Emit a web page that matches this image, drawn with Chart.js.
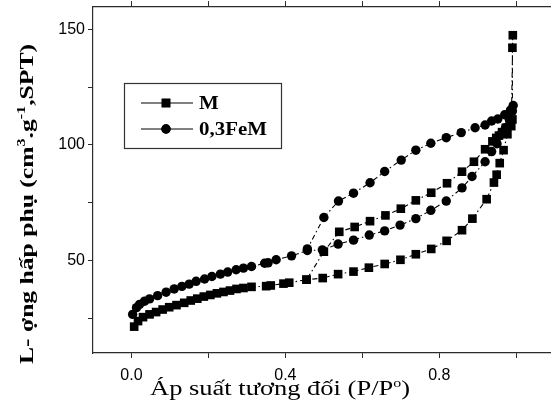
<!DOCTYPE html>
<html>
<head>
<meta charset="utf-8">
<script src="https://cdn.jsdelivr.net/npm/chart.js@4/dist/chart.umd.min.js"></script>
<style>
  html, body { margin: 0; padding: 0; background: #fff; }
  #wrap { width: 557px; height: 414px; }
</style>
</head>
<body>
<div id="wrap"><canvas id="chartIso" width="557" height="414"></canvas></div>
<script>
// series names
var SERIES = ['M', '0,3FeM'];

// M - adsorption branch
var M_ADS_P = [0.007, 0.017, 0.030, 0.047, 0.064, 0.081, 0.098, 0.117, 0.137, 0.154, 0.171, 0.188, 0.205, 0.222, 0.239, 0.256, 0.273, 0.291, 0.312, 0.350, 0.362, 0.395, 0.410, 0.455, 0.497, 0.537, 0.577, 0.617, 0.658, 0.699, 0.739, 0.779, 0.819, 0.859, 0.886, 0.923, 0.942, 0.949, 0.957, 0.967, 0.977, 0.987, 0.991];
var M_ADS_V = [21.4, 23.8, 25.5, 26.7, 27.7, 28.8, 29.8, 30.7, 31.7, 32.7, 33.5, 34.4, 35.1, 35.8, 36.4, 37.0, 37.7, 38.1, 38.6, 38.9, 39.2, 40.0, 40.4, 41.7, 42.4, 44.1, 45.2, 46.9, 48.5, 50.3, 52.7, 55.0, 58.5, 63.1, 68.1, 76.5, 83.7, 87.1, 92.1, 97.7, 104.6, 108.1, 147.4];
// M - desorption branch
var M_DES_P = [0.990, 0.990, 0.983, 0.973, 0.963, 0.955, 0.948, 0.938, 0.919, 0.890, 0.859, 0.820, 0.779, 0.739, 0.700, 0.660, 0.620, 0.580, 0.540, 0.500, 0.455];
var M_DES_V = [142.0, 111.0, 109.5, 107.4, 105.5, 104.0, 103.0, 101.5, 98.1, 92.7, 88.4, 83.4, 79.3, 76.0, 72.4, 69.5, 67.0, 64.5, 62.4, 53.8, 41.7];

// 0,3FeM - adsorption branch
var FE_ADS_P = [0.003, 0.013, 0.021, 0.034, 0.047, 0.068, 0.090, 0.111, 0.131, 0.150, 0.168, 0.190, 0.209, 0.231, 0.250, 0.272, 0.291, 0.312, 0.346, 0.355, 0.376, 0.416, 0.457, 0.496, 0.537, 0.577, 0.618, 0.658, 0.698, 0.739, 0.778, 0.818, 0.859, 0.885, 0.919, 0.936, 0.950, 0.960, 0.972, 0.982, 0.990, 0.992];
var FE_ADS_V = [26.7, 29.6, 31.0, 32.4, 33.4, 34.8, 36.3, 37.7, 38.8, 39.8, 41.0, 42.0, 43.1, 44.1, 45.0, 46.0, 46.7, 47.4, 48.8, 49.0, 50.3, 52.0, 54.3, 54.6, 57.1, 58.8, 61.0, 62.8, 65.3, 68.1, 71.7, 75.7, 81.4, 86.3, 92.7, 97.1, 100.5, 104.6, 107.4, 111.0, 114.6, 117.0];
// 0,3FeM - desorption branch
var FE_DES_P = [0.985, 0.970, 0.952, 0.936, 0.919, 0.893, 0.857, 0.818, 0.778, 0.739, 0.701, 0.658, 0.620, 0.577, 0.538, 0.500, 0.457];
var FE_DES_V = [115.0, 113.0, 111.2, 110.3, 108.6, 107.4, 105.3, 103.1, 100.7, 97.7, 93.4, 88.5, 83.6, 79.1, 75.7, 68.6, 55.0];

// axes
var X_TICKS = [0, 0.2, 0.4, 0.6, 0.8, 1.0];
var X_LABELED = [0, 0.4, 0.8];
var Y_TICKS = [25, 50, 75, 100, 125, 150];
var Y_LABELED = [50, 100, 150];

function pts(p, v) {
  return p.map(function (x, i) { return { x: x, y: v[i] }; });
}

var ink = '#000';
var frame = '#2b2b2b';

function fixedTicks(list) {
  return function (scale) {
    scale.ticks = list.map(function (v) { return { value: v }; });
  };
}

function isIn(list, v) {
  return list.some(function (t) { return Math.abs(t - v) < 1e-6; });
}

// text with superscript parts, drawn on the canvas
function richWidth(ctx, parts, size, weight) {
  var w = 0;
  parts.forEach(function (p) {
    ctx.font = weight + ' ' + (p[1] ? Math.round(size * 0.62) : size) + 'px "Liberation Serif", "Times New Roman", serif';
    w += ctx.measureText(p[0]).width;
  });
  return w;
}
function richDraw(ctx, parts, size, weight, x, y) {
  parts.forEach(function (p) {
    ctx.font = weight + ' ' + (p[1] ? Math.round(size * 0.62) : size) + 'px "Liberation Serif", "Times New Roman", serif';
    ctx.fillText(p[0], x, p[1] ? y - size * 0.42 : y);
    x += ctx.measureText(p[0]).width;
  });
}

var X_TITLE = [['Áp suất tương đối (P/P', false], ['o', true], [')', false]];
var Y_TITLE = [['L- ợng hấp phụ (cm', false], ['3', true], ['.g', false], ['-1', true], [',SPT)', false]];

var titlesPlugin = {
  id: 'titles',
  afterDraw: function (chart) {
    var ctx = chart.ctx;
    ctx.save();
    ctx.fillStyle = ink;
    ctx.textBaseline = 'alphabetic';
    ctx.textAlign = 'left';
    // x title
    var size = 20, w = richWidth(ctx, X_TITLE, size, 'normal');
    var sx = 260 / w;
    ctx.save();
    ctx.translate(280, 395);
    ctx.scale(sx, 1);
    richDraw(ctx, X_TITLE, size, 'normal', -w / 2, 0);
    ctx.restore();
    // y title
    var ys = 19, yw = richWidth(ctx, Y_TITLE, ys, 'bold');
    var sy = 320 / yw;
    ctx.save();
    ctx.translate(33, 204);
    ctx.rotate(-Math.PI / 2);
    ctx.scale(sy, 1);
    richDraw(ctx, Y_TITLE, ys, 'bold', -yw / 2, 0);
    ctx.restore();
    ctx.restore();
  }
};

var legendPlugin = {
  id: 'boxLegend',
  afterDatasetsDraw: function (chart) {
    var ctx = chart.ctx;
    var bx = 124, by = 83, bw = 157, bh = 65;
    ctx.save();
    ctx.fillStyle = '#fff';
    ctx.fillRect(bx, by, bw, bh);
    ctx.strokeStyle = '#333';
    ctx.lineWidth = 1.2;
    ctx.strokeRect(bx + 0.5, by + 0.5, bw, bh);
    chart.data.datasets.forEach(function (ds, i) {
      var yy = by + 20 + i * 26;
      ctx.strokeStyle = ink;
      ctx.lineWidth = 1;
      ctx.setLineDash([]);
      ctx.beginPath();
      ctx.moveTo(141, yy);
      ctx.lineTo(193, yy);
      ctx.stroke();
      ctx.fillStyle = ink;
      Chart.helpers.drawPoint(ctx, { pointStyle: ds.pointStyle, radius: ds.pointRadius, borderWidth: 0 }, 166, yy);
      ctx.fill();
      ctx.font = 'bold 19px "Liberation Serif", "Times New Roman", serif';
      ctx.textBaseline = 'middle';
      ctx.save();
      ctx.translate(199, yy + 1);
      ctx.scale(1.1, 1);
      ctx.fillText(ds.label, 0, 0);
      ctx.restore();
    });
    ctx.restore();
  }
};

var lineStyle = {
  borderColor: ink,
  backgroundColor: ink,
  borderWidth: 1.1,
  borderDash: [5, 3, 1.5, 3],
  showLine: true,
  pointBorderWidth: 0,
  tension: 0
};

var isoChart = new Chart(document.getElementById('chartIso'), {
  type: 'scatter',
  data: {
    datasets: [
      Object.assign({
        label: SERIES[0],
        data: pts(M_ADS_P, M_ADS_V).concat(pts(M_DES_P, M_DES_V)),
        pointStyle: 'rect',
        pointRadius: 6.1
      }, lineStyle),
      Object.assign({
        label: SERIES[1],
        data: pts(FE_ADS_P, FE_ADS_V).concat(pts(FE_DES_P, FE_DES_V)),
        pointStyle: 'circle',
        pointRadius: 4.7
      }, lineStyle)
    ]
  },
  options: {
    responsive: false,
    animation: false,
    devicePixelRatio: 1,
    layout: { padding: 0 },
    plugins: { legend: { display: false }, tooltip: { enabled: false } },
    scales: {
      x: {
        type: 'linear',
        position: 'bottom',
        min: -0.1,
        max: 1.09,
        afterBuildTicks: fixedTicks(X_TICKS),
        afterFit: function (s) { s.height = 61; s.paddingLeft = 0; s.paddingRight = 0; },
        grid: { drawOnChartArea: false, drawTicks: true, tickLength: 5, color: frame, tickWidth: 1 },
        border: { display: true, color: frame, width: 1.2 },
        ticks: {
          color: ink,
          padding: 8,
          maxRotation: 0,
          autoSkip: false,
          font: { family: '"Liberation Sans", Arial, sans-serif', size: 16 },
          callback: function (v) { return isIn(X_LABELED, v) ? v.toFixed(1) : ''; }
        }
      },
      xTop: {
        type: 'linear',
        position: 'top',
        min: -0.1,
        max: 1.09,
        afterBuildTicks: fixedTicks(X_TICKS),
        afterFit: function (s) { s.height = 5; s.paddingLeft = 0; s.paddingRight = 0; },
        grid: { drawOnChartArea: false, drawTicks: true, tickLength: 5, color: frame },
        border: { display: true, color: frame, width: 1.2 },
        ticks: { display: false }
      },
      y: {
        type: 'linear',
        min: 10,
        max: 160,
        afterBuildTicks: fixedTicks(Y_TICKS),
        afterFit: function (s) { s.width = 93; s.paddingTop = 0; s.paddingBottom = 0; },
        grid: { drawOnChartArea: false, drawTicks: true, tickLength: 5, color: frame },
        border: { display: true, color: frame, width: 1.2 },
        ticks: {
          color: ink,
          padding: 3,
          autoSkip: false,
          font: { family: '"Liberation Sans", Arial, sans-serif', size: 16 },
          callback: function (v) { return isIn(Y_LABELED, v) ? String(v) : ''; }
        }
      }
    }
  },
  plugins: [legendPlugin, titlesPlugin]
});
</script>
</body>
</html>
